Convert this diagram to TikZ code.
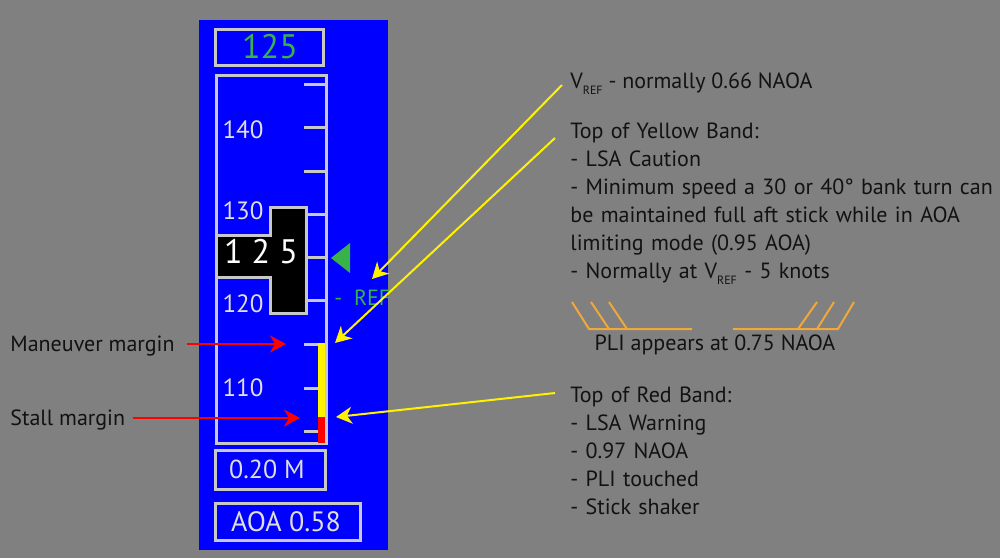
\documentclass[tikz,border=0pt]{standalone}
\usepackage{fontspec}
\setmainfont{PT Sans}
\usetikzlibrary{arrows.meta}
\definecolor{bggray}{RGB}{128,128,128}
\definecolor{dispblue}{RGB}{0,0,255}
\definecolor{framegray}{RGB}{200,200,200}
\definecolor{disptext}{RGB}{222,222,222}
\definecolor{refgreen}{RGB}{57,178,74}
\definecolor{pliorange}{RGB}{240,168,60}
\definecolor{notetext}{RGB}{18,18,18}
\tikzset{
  frame/.style={draw=framegray,line width=1.5pt},
  tickline/.style={framegray,line width=1.5pt},
  scalelbl/.style={text=disptext,font=\fontsize{12.5}{12.5}\selectfont,inner sep=0pt},
  note/.style={text=notetext,font=\fontsize{11}{14}\selectfont,anchor=base west,inner sep=0pt,align=left},
  redarrow/.style={->,red,line width=1pt},
  yelarrow/.style={->,yellow,line width=1pt},
  pliline/.style={pliorange,line width=1pt},
}
\newcommand{\vrefsub}{V\raisebox{-3pt}{\fontsize{6}{6}\selectfont REF}}

\begin{document}
\begin{tikzpicture}[x=0.5pt,y=-0.5pt,>={Stealth[length=8pt,width=8.5pt,inset=2.5pt]}]
  \fill[bggray] (0,0) rectangle (1000,558);
  \useasboundingbox (0,0) rectangle (1000,558);
  \fill[dispblue] (199,20) rectangle (388,550);
  % selected speed
  \draw[frame] (215.5,29.5) rectangle (323.5,65.5);
  \node[text=refgreen,font=\fontsize{17}{17}\selectfont,inner sep=0pt] (sel) at (270,47) {125};
  % speed tape
  \draw[frame] (216,75) rectangle (326,443);
  \foreach \y in {84,127,171,214,257,300,344,388,431}
    \draw[tickline] (304,\y) -- (326,\y);
  \node[scalelbl] (l140) at (243,130) {140};
  \node[scalelbl] (l130) at (243,211) {130};
  \node[scalelbl] (l120) at (243,304) {120};
  \node[scalelbl] (l110) at (243,388) {110};
  % current speed pointer
  \draw[frame,fill=black] (270,207) -- (306,207) -- (306,313) -- (270,313) -- (270,277)
    -- (216,277) -- (216,235) -- (270,235) -- cycle;
  \node[text=white,font=\fontsize{17}{17}\selectfont,inner sep=0pt] (cur) at (261,252) {1 2 5};
  % bands
  \fill[yellow] (318,343) rectangle (325,417);
  \fill[red] (318,417) rectangle (325,443);
  % vref bug
  \fill[refgreen] (331,258) -- (350,243) -- (350,273) -- cycle;
  \node[text=refgreen,font=\fontsize{11}{11}\selectfont,anchor=base west,inner sep=0pt] (refl) at (334,305) {-\ \ REF};
  % mach and aoa
  \draw[frame] (215.5,450.5) rectangle (325.5,489.5);
  \node[text=disptext,font=\fontsize{13}{13}\selectfont,inner sep=0pt] (mach) at (267,469) {0.20 M};
  \draw[frame] (215.5,503.5) rectangle (360.5,540.5);
  \node[text=disptext,font=\fontsize{14}{14}\selectfont,inner sep=0pt] (aoa) at (286,522) {AOA 0.58};

  % left labels
  \node[note] (mm) at (10,351) {Maneuver margin};
  \node[note] (sm) at (10,425) {Stall margin};
  \coordinate (mmtail) at (187,344);
  \coordinate (mmtip) at (286,344);
  \coordinate (smtail) at (133,418);
  \coordinate (smtip) at (300,418);
  \draw[redarrow] (mmtail) -- (mmtip);
  \draw[redarrow] (smtail) -- (smtip);

  % notes on the right
  \node[note] (vref) at (570,88) {\vrefsub{} - normally 0.66 NAOA};
  \node[note,text width=240pt] (yband) at (570,138) {Top of Yellow Band:\\
    - LSA Caution\\
    - Minimum speed a 30 or 40° bank turn can\\
    be maintained full aft stick while in AOA\\
    limiting mode (0.95 AOA)\\
    - Normally at \vrefsub{} - 5 knots};
  \node[note,text width=140pt] (rband) at (570,402) {Top of Red Band:\\
    - LSA Warning\\
    - 0.97 NAOA\\
    - PLI touched\\
    - Stick shaker};
  \coordinate (vreftail) at (562,85);
  \coordinate (vreftip) at (372,279);
  \coordinate (ybtail) at (555,138);
  \coordinate (ybtip) at (335,343);
  \coordinate (rbtail) at (555,393);
  \coordinate (rbtip) at (336,417);
  \draw[yelarrow] (vreftail) -- (vreftip);
  \draw[yelarrow] (ybtail) -- (ybtip);
  \draw[yelarrow] (rbtail) -- (rbtip);

  % PLI symbol
  \draw[pliline] (572,302) -- (589,329) -- (692,329);
  \draw[pliline] (591,302) -- (609,329);
  \draw[pliline] (609,302) -- (627,329);
  \draw[pliline] (733,329) -- (838,329) -- (854,302);
  \draw[pliline] (817,302) -- (798,329);
  \draw[pliline] (834,302) -- (817,329);
  \node[note,anchor=base] (pli) at (715,350) {PLI appears at 0.75 NAOA};
\end{tikzpicture}
\end{document}
